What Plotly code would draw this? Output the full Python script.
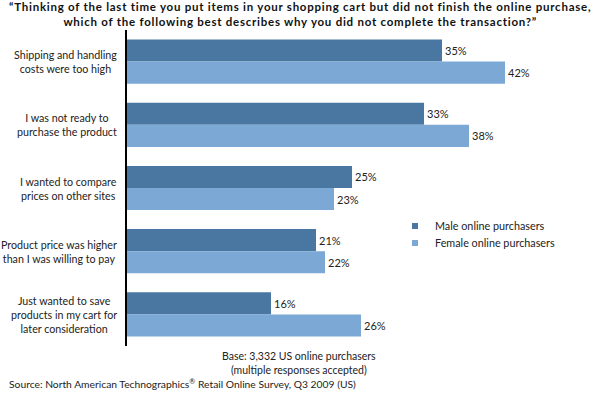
import plotly.graph_objects as go

categories = [
    "Shipping and handling<br>costs were too high",
    "I was not ready to<br>purchase the product",
    "I wanted to compare<br>prices on other sites",
    "Product price was higher<br>than I was willing to pay",
    "Just wanted to save<br>products in my cart for<br>later consideration",
]
male = [35, 33, 25, 21, 16]
female = [42, 38, 23, 22, 26]
series_names = ["Male online purchasers", "Female online purchasers"]
colors = ["#4a77a2", "#7ba8d5"]

FONT = "Lato, 'Open Sans', sans-serif"
cat_idx = list(range(len(categories)))

W, H = 592, 394
ML, MR, MT, MB = 127, 2, 30, 48
PW = W - ML - MR
PH = H - MT - MB

fig = go.Figure()
legend_ids = ["legend", "legend2"]
for name, vals, col, lg in zip(series_names, [male, female], colors, legend_ids):
    fig.add_trace(go.Bar(
        y=cat_idx, x=vals, orientation="h", name=name,
        marker=dict(color=col, line=dict(width=0)),
        text=[f"{v}%" for v in vals], textposition="outside",
        textfont=dict(family=FONT, size=11, color="#222"),
        cliponaxis=False, showlegend=False,
    ))
    fig.add_trace(go.Scatter(
        x=[None], y=[None], mode="markers", name=name, legend=lg,
        marker=dict(symbol="square", size=6, color=col),
    ))

for i, c in enumerate(categories):
    fig.add_annotation(
        x=-8 / PW, xref="paper", y=i, yref="y", text=c, showarrow=False,
        xanchor="right", yanchor="middle", align="center",
        font=dict(family=FONT, size=10.7, color="#222"),
    )

title = ("\u201cThinking of the last time you put items in your shopping cart but did not finish the online purchase,"
         "<br>which of the following best describes why you did not complete the transaction?\u201d")
fig.add_annotation(
    x=(300 - ML) / PW, xref="paper", y=1.0, yref="paper", yshift=MT + 2,
    text=f"<span style='letter-spacing:0.75px'>{title}</span>",
    showarrow=False, xanchor="center", yanchor="top", align="center",
    font=dict(family="Lato, sans-serif", size=11.5, color="#111", weight="bold"),
)
fig.add_annotation(
    x=(299 - ML) / PW, xref="paper", y=0, yref="paper", yshift=-2,
    text="Base: 3,332 US online purchasers<br>(multiple responses accepted)",
    showarrow=False, xanchor="center", yanchor="top", align="center",
    font=dict(family=FONT, size=10.5, color="#222"),
)
fig.add_annotation(
    x=(7 - ML) / PW, xref="paper", y=0, yref="paper", yshift=-29,
    text="Source: North American Technographics<sup>\u00ae</sup> Retail Online Survey, Q3 2009 (US)",
    showarrow=False, xanchor="left", yanchor="top", align="left",
    font=dict(family=FONT, size=10.3, color="#222"),
)

leg_x = (395 - ML) / PW
leg_common = dict(x=leg_x, xanchor="left", yanchor="top",
                  font=dict(family=FONT, size=10.8, color="#222"),
                  bgcolor="rgba(0,0,0,0)")
fig.update_layout(
    width=W, height=H,
    margin=dict(l=ML, r=MR, t=MT, b=MB),
    paper_bgcolor="white", plot_bgcolor="white",
    barmode="group", bargap=0.3, bargroupgap=0,
    xaxis=dict(range=[0, PW / 9.0], visible=False, fixedrange=True),
    yaxis=dict(range=[4.5, -0.5], showticklabels=False, showgrid=False,
               zeroline=False, showline=True, linecolor="black", linewidth=1.5,
               ticks="", fixedrange=True),
    legend=dict(y=(MT + PH - 211.5) / PH, **leg_common),
    legend2=dict(y=(MT + PH - 228.5) / PH, **leg_common),
    showlegend=True,
)

fig.write_html("out.html", config={"displayModeBar": False},
               post_script="document.body.style.margin='0';")
